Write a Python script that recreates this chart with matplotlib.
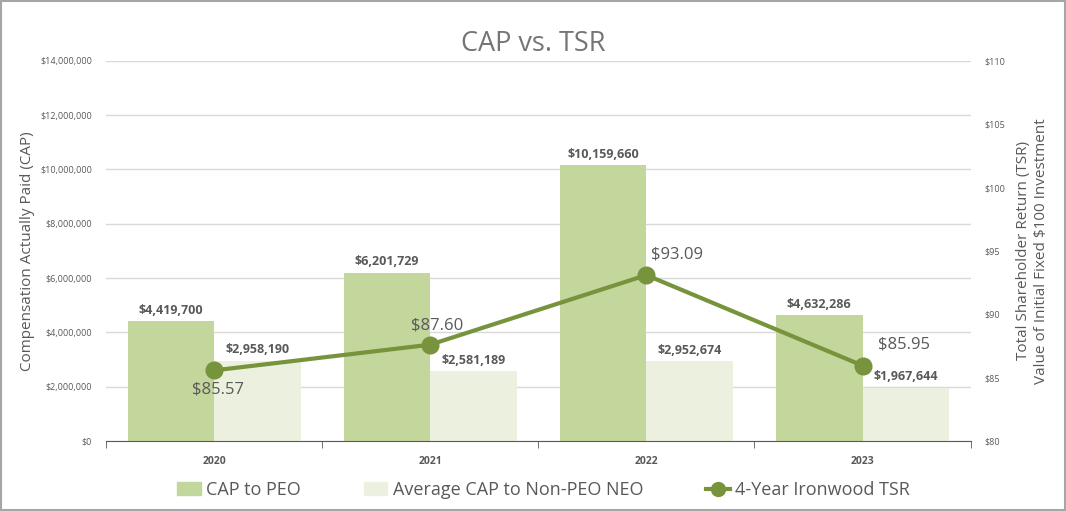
import numpy as np
import matplotlib.pyplot as plt
from matplotlib.lines import Line2D
from matplotlib.patches import Patch, Rectangle
from matplotlib.ticker import FuncFormatter

years = ["2020", "2021", "2022", "2023"]
cap_peo = [4419700, 6201729, 10159660, 4632286]
cap_neo = [2958190, 2581189, 2952674, 1967644]
tsr = [85.57, 87.60, 93.09, 85.95]

c_peo = "#C3D69B"
c_neo = "#EBF1DE"
c_line = "#77933C"
c_text = "#595959"

plt.rcParams["font.family"] = ["Open Sans", "DejaVu Sans"]

fig = plt.figure(figsize=(10.66, 5.11), dpi=100, facecolor="white")
ax = fig.add_axes([0.0994, 0.137, 0.8111, 0.744])
ax2 = ax.twinx()

x = np.arange(len(years))
w = 0.4
ax.bar(x - w / 2, cap_peo, w, color=c_peo, zorder=2)
ax.bar(x + w / 2, cap_neo, w, color=c_neo, zorder=2)

for xi, v in zip(x, cap_peo):
    ax.annotate("${:,}".format(v), (xi - w / 2, v), xytext=(0, 3), textcoords="offset points",
                ha="center", va="bottom", fontsize=9, fontweight="bold", color=c_text)
for xi, v in zip(x, cap_neo):
    ax.annotate("${:,}".format(v), (xi + w / 2, v), xytext=(0, 3), textcoords="offset points",
                ha="center", va="bottom", fontsize=9, fontweight="bold", color=c_text)

ax.set_ylim(0, 14000000)
ax.set_yticks(np.arange(0, 14000001, 2000000))
ax.yaxis.set_major_formatter(FuncFormatter(lambda v, p: "${:,.0f}".format(v)))
ax.set_xlim(-0.5, 3.5)
ax.set_xticks(x)
ax.set_xticklabels(years, fontsize=7.5, fontweight="bold", color=c_text)
ax.set_xticks([-0.5, 0.5, 1.5, 2.5, 3.5], minor=True)
ax.tick_params(axis="x", which="major", length=0, pad=11)
ax.tick_params(axis="x", which="minor", length=5, color="#595959", direction="out")
ax.tick_params(axis="y", length=0, labelsize=6.5, labelcolor=c_text, pad=10)
ax.grid(axis="y", color="#D9D9D9", linewidth=1, zorder=0)
ax.set_axisbelow(True)
for s in ["top", "right", "left"]:
    ax.spines[s].set_visible(False)
    ax2.spines[s].set_visible(False)
ax.spines["bottom"].set_color("#595959")
ax2.spines["bottom"].set_visible(False)
ax.set_ylabel("Compensation Actually Paid (CAP)", fontsize=11, color=c_text, labelpad=4)

ax2.plot(x, tsr, color=c_line, linewidth=3, marker="o", markersize=12, zorder=5)
ax2.set_ylim(80, 110)
ax2.set_yticks(np.arange(80, 111, 5))
ax2.yaxis.set_major_formatter(FuncFormatter(lambda v, p: "${:.0f}".format(v)))
ax2.tick_params(axis="y", length=0, labelsize=6.5, labelcolor=c_text, pad=10)
ax2.set_ylabel("Total Shareholder Return (TSR)\nValue of Initial Fixed $100 Investment",
               fontsize=11, color=c_text, labelpad=8)

offsets = [(3, -14), (5, 14), (22, 15), (30, 15)]
for xi, v, (dx, dy) in zip(x, tsr, offsets):
    ax2.annotate("${:.2f}".format(v), (xi, v), xytext=(dx, dy), textcoords="offset points",
                 ha="center", va="center", fontsize=12, color=c_text, zorder=6)

fig.text(0.5, 0.914, "CAP vs. TSR", ha="center", va="center", fontsize=19.5, color="#757575")

handles = [Patch(color=c_peo), Patch(color=c_neo),
           Line2D([0], [0], color=c_line, linewidth=3, marker="o", markersize=10)]
labels = ["CAP to PEO", "Average CAP to Non-PEO NEO", "4-Year Ironwood TSR"]
fig.legend(handles, labels, loc="center", bbox_to_anchor=(0.51, 0.041), ncol=3, frameon=False,
           fontsize=13, labelcolor=c_text, columnspacing=3.5, handlelength=1.3,
           handletextpad=0.3)

fig.patches.append(Rectangle((0.001, 0.002), 0.998, 0.996, transform=fig.transFigure,
                             fill=False, edgecolor="#A6A6A6", linewidth=1.5))

fig.savefig("out.png", dpi=100)
